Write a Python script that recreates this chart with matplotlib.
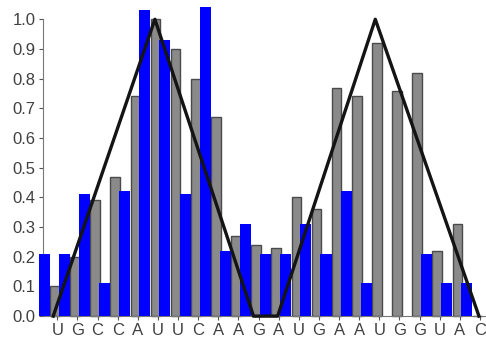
# Reactivity profile: blue vs gray bars per nucleotide, with a triangle guide line

import matplotlib.pyplot as plt
import numpy as np

plt.rcParams['font.family'] = ['Liberation Sans', 'DejaVu Sans']

# sequence shown along the bottom
bases = ["U", "G", "C", "C", "A", "U", "U", "C", "A", "A", "G",
         "A", "U", "G", "A", "A", "U", "G", "G", "U", "A", "C"]

# bar heights per base
blue_vals = [0.21, 0.21, 0.41, 0.11, 0.42, 1.03, 0.93, 0.41, 1.04, 0.22, 0.31,
             0.21, 0.21, 0.31, 0.21, 0.42, 0.11, 0.0, 0.0, 0.21, 0.11, 0.11]
gray_vals = [0.10, 0.20, 0.39, 0.47, 0.74, 1.00, 0.90, 0.80, 0.67, 0.27, 0.24,
             0.23, 0.40, 0.36, 0.77, 0.74, 0.92, 0.76, 0.82, 0.22, 0.31, 0.0]

# guide line (two triangles)
line_x = [-0.2, 4.85, 9.75, 10.95, 15.8, 20.95]
line_y = [0, 1, 0, 0, 1, 0]

x = np.arange(len(bases))

fig = plt.figure(figsize=(4.86, 3.37), dpi=100)
ax = fig.add_axes([0.088, 0.062, 0.912, 0.938])

ax.bar(x - 0.65, blue_vals, width=0.55, color="#0000ff", linewidth=0, clip_on=False, zorder=3)
ax.bar(x - 0.12, gray_vals, width=0.48, color="#8a8a8a", edgecolor="#4a4a4a",
       linewidth=1.0, clip_on=False, zorder=2)
ax.plot(line_x, line_y, color="#141414", linewidth=2.4, zorder=4, clip_on=False)

ax.set_xlim(-0.72, 21.3)
ax.set_ylim(0, 1.065)

ax.set_xticks(x)
ax.set_xticklabels(bases, fontsize=12, color="#404040")
ax.set_yticks(np.arange(0, 1.01, 0.1))
ax.set_yticklabels(["%.1f" % v for v in np.arange(0, 1.01, 0.1)], fontsize=12, color="#404040")
ax.tick_params(axis="both", length=3, width=0.8, color="#555555", pad=2)

for side in ["top", "right"]:
    ax.spines[side].set_visible(False)
ax.spines["left"].set_bounds(0, 1.0)
ax.spines["left"].set_color("#777777")
ax.spines["bottom"].set_color("#777777")

fig.savefig("out.png", dpi=100)
